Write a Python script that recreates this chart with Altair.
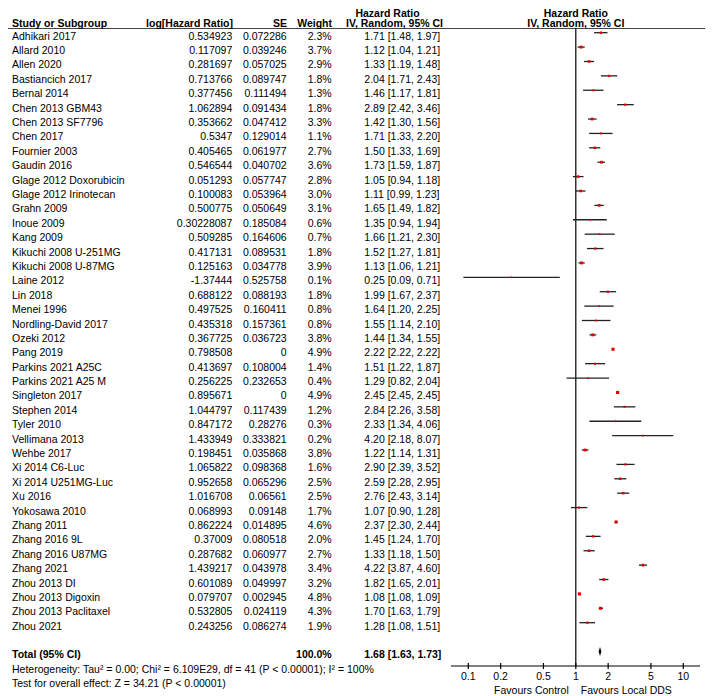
import altair as alt
import pandas as pd

studies = ["Adhikari 2017", "Allard 2010", "Allen 2020", "Bastiancich 2017", "Bernal 2014",
           "Chen 2013 GBM43", "Chen 2013 SF7796", "Chen 2017", "Fournier 2003", "Gaudin 2016",
           "Glage 2012 Doxorubicin", "Glage 2012 Irinotecan", "Grahn 2009", "Inoue 2009", "Kang 2009",
           "Kikuchi 2008 U-251MG", "Kikuchi 2008 U-87MG", "Laine 2012", "Lin 2018", "Menei 1996",
           "Nordling-David 2017", "Ozeki 2012", "Pang 2019", "Parkins 2021 A25C", "Parkins 2021 A25 M",
           "Singleton 2017", "Stephen 2014", "Tyler 2010", "Vellimana 2013", "Wehbe 2017",
           "Xi 2014 C6-Luc", "Xi 2014 U251MG-Luc", "Xu 2016", "Yokosawa 2010", "Zhang 2011",
           "Zhang 2016 9L", "Zhang 2016 U87MG", "Zhang 2021", "Zhou 2013 DI", "Zhou 2013 Digoxin",
           "Zhou 2013 Paclitaxel", "Zhou 2021"]
log_hr = ["0.534923", "0.117097", "0.281697", "0.713766", "0.377456", "1.062894", "0.353662", "0.5347",
          "0.405465", "0.546544", "0.051293", "0.100083", "0.500775", "0.30228087", "0.509285", "0.417131",
          "0.125163", "-1.37444", "0.688122", "0.497525", "0.435318", "0.367725", "0.798508", "0.413697",
          "0.256225", "0.895671", "1.044797", "0.847172", "1.433949", "0.198451", "1.065822", "0.952658",
          "1.016708", "0.068993", "0.862224", "0.37009", "0.287682", "1.439217", "0.601089", "0.079707",
          "0.532805", "0.243256"]
se = ["0.072286", "0.039246", "0.057025", "0.089747", "0.111494", "0.091434", "0.047412", "0.129014",
      "0.061977", "0.040702", "0.057747", "0.053964", "0.050649", "0.185084", "0.164606", "0.089531",
      "0.034778", "0.525758", "0.088193", "0.160411", "0.157361", "0.036723", "0", "0.108004",
      "0.232653", "0", "0.117439", "0.28276", "0.333821", "0.035868", "0.098368", "0.065296",
      "0.06561", "0.09148", "0.014895", "0.080518", "0.060977", "0.043978", "0.049997", "0.002945",
      "0.024119", "0.086274"]
weight = [2.3, 3.7, 2.9, 1.8, 1.3, 1.8, 3.3, 1.1, 2.7, 3.6, 2.8, 3.0, 3.1, 0.6, 0.7, 1.8, 3.9, 0.1, 1.8, 0.8,
          0.8, 3.8, 4.9, 1.4, 0.4, 4.9, 1.2, 0.3, 0.2, 3.8, 1.6, 2.5, 2.5, 1.7, 4.6, 2.0, 2.7, 3.4, 3.2, 4.8,
          4.3, 1.9]
hr = [1.71, 1.12, 1.33, 2.04, 1.46, 2.89, 1.42, 1.71, 1.50, 1.73, 1.05, 1.11, 1.65, 1.35, 1.66, 1.52, 1.13,
      0.25, 1.99, 1.64, 1.55, 1.44, 2.22, 1.51, 1.29, 2.45, 2.84, 2.33, 4.20, 1.22, 2.90, 2.59, 2.76, 1.07,
      2.37, 1.45, 1.33, 4.22, 1.82, 1.08, 1.70, 1.28]
ci_low = [1.48, 1.04, 1.19, 1.71, 1.17, 2.42, 1.30, 1.33, 1.33, 1.59, 0.94, 0.99, 1.49, 0.94, 1.21, 1.27,
          1.06, 0.09, 1.67, 1.20, 1.14, 1.34, 2.22, 1.22, 0.82, 2.45, 2.26, 1.34, 2.18, 1.14, 2.39, 2.28,
          2.43, 0.90, 2.30, 1.24, 1.18, 3.87, 1.65, 1.08, 1.63, 1.08]
ci_high = [1.97, 1.21, 1.48, 2.43, 1.81, 3.46, 1.56, 2.20, 1.69, 1.87, 1.18, 1.23, 1.82, 1.94, 2.30, 1.81,
           1.21, 0.71, 2.37, 2.25, 2.10, 1.55, 2.22, 1.87, 2.04, 2.45, 3.58, 4.06, 8.07, 1.31, 3.52, 2.95,
           3.14, 1.28, 2.44, 1.70, 1.50, 4.60, 2.01, 1.09, 1.79, 1.51]

total_label = "Total (95% CI)"
total_weight = "100.0%"
total_hr, total_low, total_high = 1.68, 1.63, 1.73
heterogeneity = "Heterogeneity: Tau\u00b2 = 0.00; Chi\u00b2 = 6.109E29, df = 41 (P < 0.00001); I\u00b2 = 100%"
overall = "Test for overall effect: Z = 34.21 (P < 0.00001)"
tick_values = [0.1, 0.2, 0.5, 1, 2, 5, 10]
tick_labels = ["0.1", "0.2", "0.5", "1", "2", "5", "10"]
axis_extent = [0.069, 14.3]

n = len(studies)
df = pd.DataFrame({
    "row": list(range(n)),
    "study": studies,
    "loghr": log_hr,
    "se": se,
    "weight": weight,
    "wtxt": [f"{w:.1f}%" for w in weight],
    "hr": hr,
    "lo": ci_low,
    "hi": ci_high,
    "hrtxt": [f"{h:.2f} [{l:.2f}, {u:.2f}]" for h, l, u in zip(hr, ci_low, ci_high)],
})
total_row = n + 1
tot = pd.DataFrame({"row": [total_row], "study": [total_label], "wtxt": [total_weight],
                    "hrtxt": [f"{total_hr:.2f} [{total_low:.2f}, {total_high:.2f}]"]})
foot = pd.DataFrame({"row": [total_row + 1, total_row + 2], "txt": [heterogeneity, overall]})
half = 0.31
dia = pd.DataFrame({"x": [total_low, total_hr, total_high],
                    "y": [total_row, total_row - half, total_row],
                    "y2": [total_row, total_row + half, total_row]})

FONT = "Liberation Sans"
FS = 10.5
H1 = 5.8     # first header line (page y minus 8)
H2 = 16.3    # second header line
HL = 20.5    # header rule
xs = alt.Scale(type="log", domain=[0.1, 10], range=[460.3, 675.3], nice=False)
ys = alt.Scale(domain=[0, n - 1], range=[24.7, 614.7], nice=False, zero=False)
Y = alt.Y("row:Q", scale=ys, axis=None)


def col_text(data, field, x, align, bold=False):
    return alt.Chart(data).mark_text(
        align=align, baseline="middle", dy=4, font=FONT, fontSize=FS,
        fontWeight="bold" if bold else "normal", color="black"
    ).encode(x=alt.value(x), y=Y, text=f"{field}:N")


def label(txt, x, y, align="center", bold=True):
    return alt.Chart(pd.DataFrame({"t": [txt]})).mark_text(
        align=align, baseline="middle", font=FONT, fontSize=FS,
        fontWeight="bold" if bold else "normal", color="black"
    ).encode(x=alt.value(x), y=alt.value(y), text="t:N")


one = pd.DataFrame({"x": [1]})
layers = [
    # header line
    alt.Chart(one).mark_rule(color="#444", strokeWidth=1).encode(
        x=alt.value(0), x2=alt.value(697), y=alt.value(HL)),
    label("Hazard Ratio", 379.5, H1),
    label("Study or Subgroup", 4, H2, align="left"),
    label("log[Hazard Ratio]", 225, H2, align="right"),
    label("SE", 279, H2, align="right"),
    label("Weight", 324, H2, align="right"),
    label("IV, Random, 95% CI", 386.5, H2),
    alt.Chart(one).mark_text(font=FONT, fontSize=FS, fontWeight="bold", baseline="middle",
                             text="Hazard Ratio").encode(
        x=alt.X("x:Q", scale=xs, axis=None), y=alt.value(H1)),
    alt.Chart(one).mark_text(font=FONT, fontSize=FS, fontWeight="bold", baseline="middle",
                             text="IV, Random, 95% CI").encode(
        x=alt.X("x:Q", scale=xs, axis=None), y=alt.value(H2)),
    # table columns
    col_text(df, "study", 4, "left"),
    col_text(df, "loghr", 224.3, "right"),
    col_text(df, "se", 278.7, "right"),
    col_text(df, "wtxt", 323.7, "right"),
    col_text(df, "hrtxt", 356.3, "left"),
    col_text(tot, "study", 4, "left", bold=True),
    col_text(tot, "wtxt", 323.7, "right", bold=True),
    col_text(tot, "hrtxt", 356.3, "left", bold=True),
    col_text(foot, "txt", 4, "left"),
    # reference line at 1
    alt.Chart(one).mark_rule(color="black", strokeWidth=1.2).encode(
        x=alt.X("x:Q", scale=xs, axis=None), y=alt.value(HL), y2=alt.value(658)),
    # CI lines
    alt.Chart(df).mark_rule(color="#222", strokeWidth=1.3).encode(
        x=alt.X("lo:Q", scale=xs, axis=None), x2="hi:Q", y=Y),
    # squares
    alt.Chart(df).mark_square(color="#e00000", opacity=1, filled=True).encode(
        x=alt.X("hr:Q", scale=xs, axis=None), y=Y,
        size=alt.Size("weight:Q", scale=alt.Scale(domain=[0, 5], range=[2, 10]), legend=None)),
    # diamond
    alt.Chart(dia).mark_area(color="black", opacity=1).encode(
        x=alt.X("x:Q", scale=xs, axis=None),
        y=alt.Y("y:Q", scale=ys, axis=None), y2="y2:Q"),
    # axis line
    alt.Chart(pd.DataFrame({"a": [axis_extent[0]], "b": [axis_extent[1]]})).mark_rule(
        color="black", strokeWidth=1.2).encode(
        x=alt.X("a:Q", scale=xs, axis=None), x2="b:Q", y=alt.value(658)),
    alt.Chart(pd.DataFrame({"t": tick_values, "lab": tick_labels})).mark_rule(
        color="black", strokeWidth=1.2).encode(
        x=alt.X("t:Q", scale=xs, axis=None), y=alt.value(655), y2=alt.value(661)),
    alt.Chart(pd.DataFrame({"t": tick_values, "lab": tick_labels})).mark_text(
        font=FONT, fontSize=FS, baseline="middle", color="black").encode(
        x=alt.X("t:Q", scale=xs, axis=None), y=alt.value(668.7), text="lab:N"),
    alt.Chart(one).mark_text(font=FONT, fontSize=FS, baseline="middle", align="right", dx=-7,
                             text="Favours Control", color="black").encode(
        x=alt.X("x:Q", scale=xs, axis=None), y=alt.value(683)),
    alt.Chart(one).mark_text(font=FONT, fontSize=FS, baseline="middle", align="left", dx=5,
                             text="Favours Local DDS", color="black").encode(
        x=alt.X("x:Q", scale=xs, axis=None), y=alt.value(683)),
]

chart = alt.layer(*layers).properties(
    width=697, height=688, padding=0,
    autosize=alt.AutoSizeParams(type="none"),
).configure_view(strokeWidth=0)

chart.save("out.html", embed_options={"renderer": "svg", "actions": False})
